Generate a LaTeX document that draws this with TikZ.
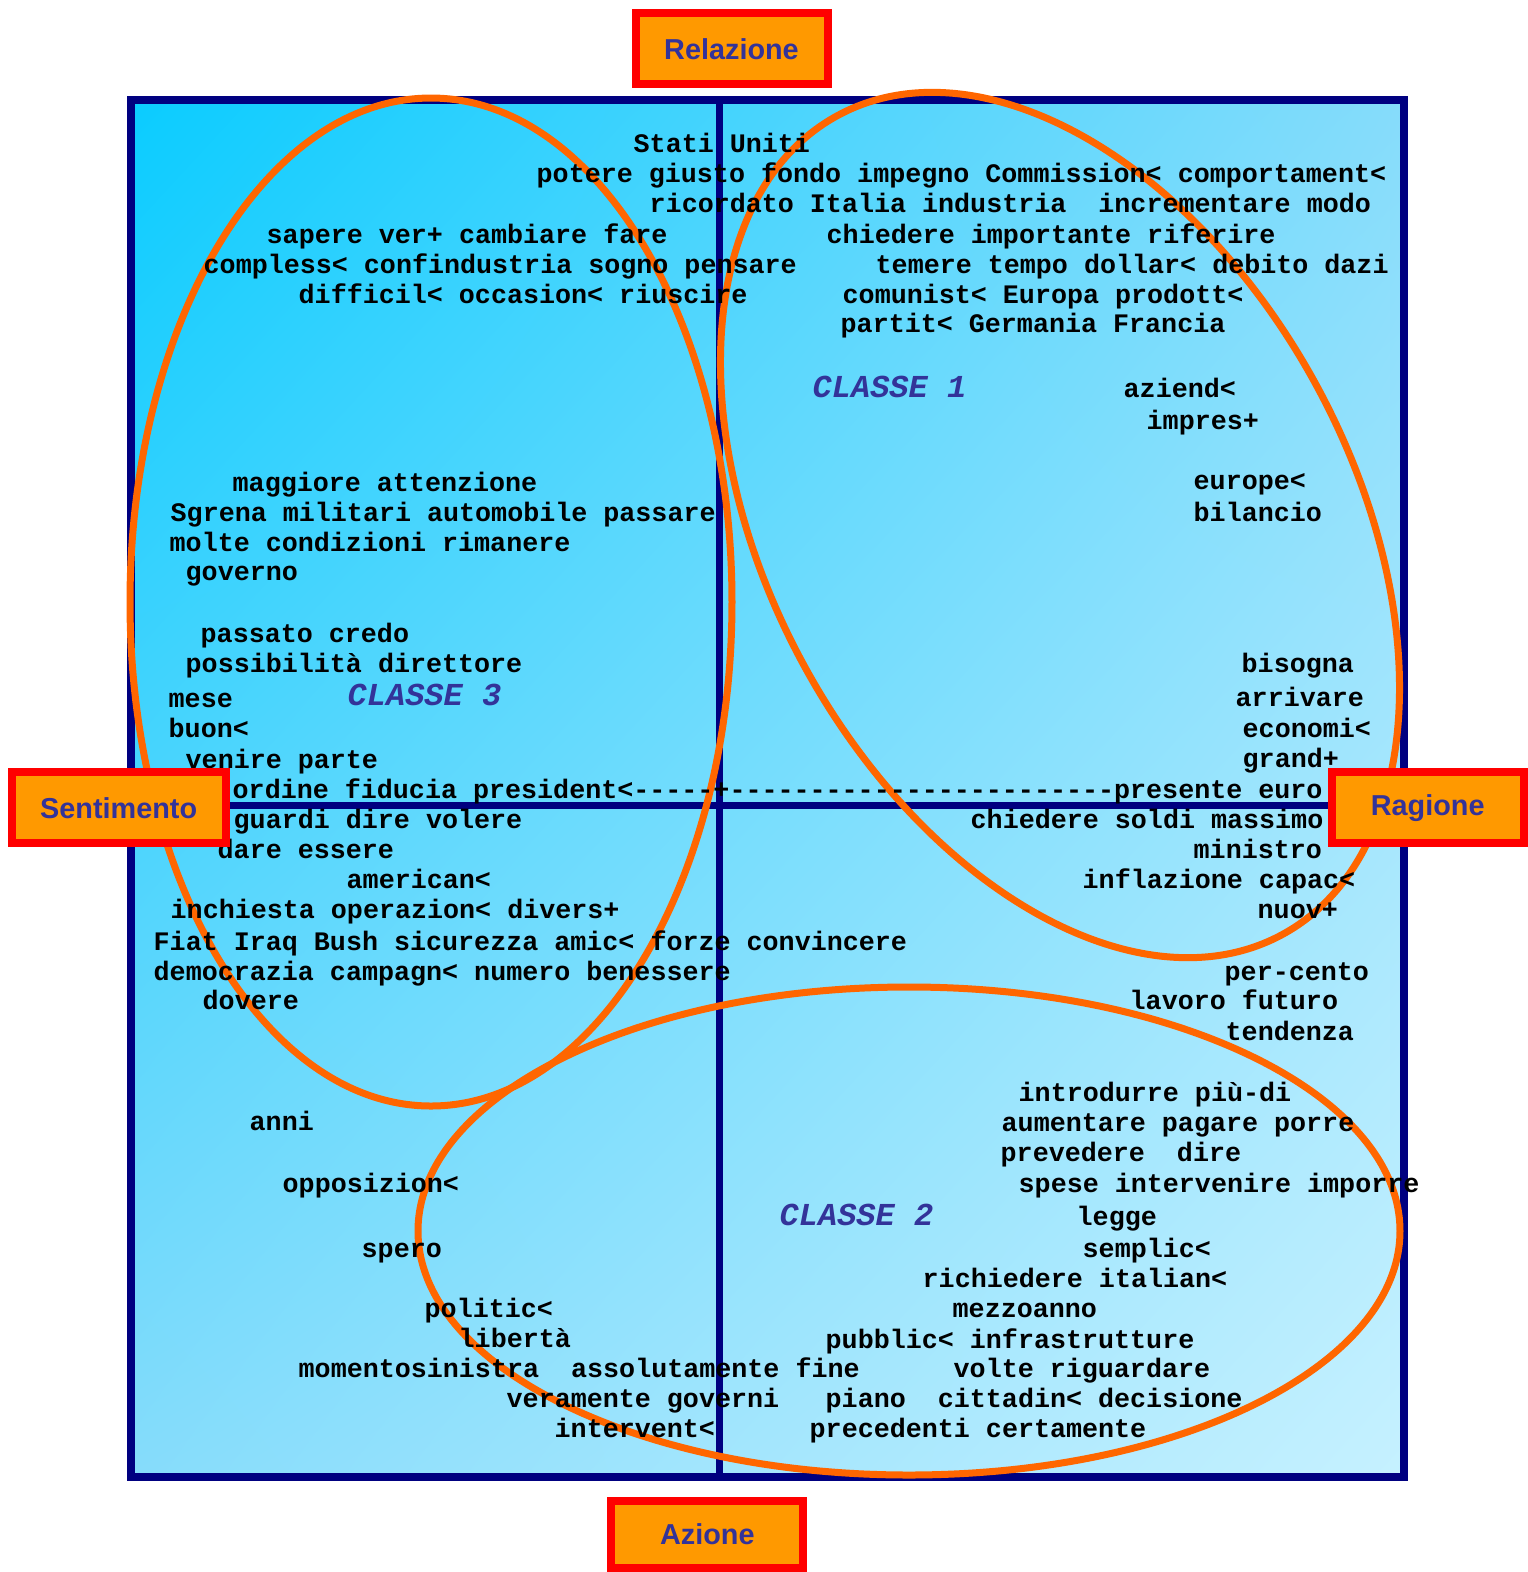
\documentclass[tikz,border=0pt]{standalone}
\usepackage{fontspec}
\setmonofont{Liberation Mono}
\setsansfont{Liberation Sans}
\usepackage{xcolor}
\usepackage{tikz}
\usetikzlibrary{positioning,shadings}

\definecolor{framenavy}{HTML}{000080}
\definecolor{ellorange}{HTML}{FF6600}
\definecolor{boxorange}{HTML}{FF9900}
\definecolor{labelblue}{HTML}{333399}
\definecolor{fillcyan}{HTML}{0ACCFF}
\definecolor{fillmid}{HTML}{86DCFB}
\definecolor{filllight}{HTML}{C6F1FF}

\begin{document}
\begin{tikzpicture}
        % Define styles
        \tikzset{
            word/.style={anchor=base west, inner sep=0pt, font=\ttfamily\bfseries\fontsize{7.6}{9}\selectfont},
            classe/.style={anchor=base west, inner sep=0pt, text=labelblue, font=\ttfamily\bfseries\itshape\fontsize{9.1}{11}\selectfont},
            axisbox/.style={rectangle, draw=red, line width=0.08cm, fill=boxorange, text=labelblue, font=\sffamily\bfseries\fontsize{8.2}{10}\selectfont, minimum width=1.92cm, minimum height=0.71cm, inner xsep=0.285cm},
            cluster/.style={draw=ellorange, line width=0.07cm},
            gridline/.style={draw=framenavy, line width=0.07cm}
        }
        \useasboundingbox (0,0) rectangle (15.28,-15.72);

        % Background and quadrants
        \shade[upper left=fillcyan, upper right=fillmid, lower left=fillmid, lower right=filllight] (1.31,-0.995) rectangle (14.035,-14.77);
        \draw [gridline] (7.195,-0.995) -- (7.195,-14.77);
        \draw [gridline] (1.31,-8.055) -- (14.035,-8.055);
        \draw [framenavy, line width=0.08cm] (1.31,-0.995) rectangle (14.035,-14.77);

        % Clusters
        \draw [cluster] (4.31,-6.02) ellipse [x radius=3.01, y radius=5.04];
        \draw [cluster, rotate around={28.5:(10.60,-5.25)}] (10.60,-5.25) ellipse [x radius=2.92, y radius=4.66];
        \draw [cluster] (9.09,-12.31) ellipse [x radius=4.91, y radius=2.44];

        % Create nodes (upper half)
        \node [word] (stati) at (6.33,-1.52) {Stati Uniti};
        \node [word] (potere) at (5.36,-1.82) {potere giusto fondo impegno Commission< comportament<};
        \node [word] (ricordato) at (6.49,-2.12) {ricordato Italia industria~ incrementare modo};
        \node [word] (sapere) at (2.66,-2.43) {sapere ver+ cambiare fare};
        \node [word] (chiedere) at (8.26,-2.43) {chiedere importante riferire};
        \node [word] (compless) at (2.03,-2.73) {compless< confindustria sogno pensare};
        \node [word] (temere) at (8.75,-2.73) {temere tempo dollar< debito dazi};
        \node [word] (difficil) at (2.98,-3.03) {difficil< occasion< riuscire};
        \node [word] (comunist) at (8.42,-3.03) {comunist< Europa prodott<};
        \node [word] (partit) at (8.40,-3.32) {partit< Germania Francia};
        \node [classe] (classe1) at (8.12,-3.97) {CLASSE 1};
        \node [word] (aziend) at (11.23,-3.97) {aziend<};
        \node [word] (impres) at (11.46,-4.29) {impres+};
        \node [word] (maggiore) at (2.32,-4.91) {maggiore attenzione};
        \node [word] (europe) at (11.93,-4.89) {europe<};
        \node [word] (sgrena) at (1.70,-5.21) {Sgrena militari automobile passare};
        \node [word] (bilancio) at (11.93,-5.21) {bilancio};
        \node [word] (molte) at (1.69,-5.51) {molte condizioni rimanere};
        \node [word] (governo) at (1.85,-5.80) {governo};
        \node [word] (passato) at (2.00,-6.42) {passato credo};
        \node [word] (possibilita) at (1.85,-6.72) {possibilità direttore};
        \node [word] (bisogna) at (12.41,-6.72) {bisogna};
        \node [word] (mese) at (1.68,-7.07) {mese};
        \node [classe] (classe3) at (3.47,-7.05) {CLASSE 3};
        \node [word] (arrivare) at (12.35,-7.06) {arrivare};
        \node [word] (buon) at (1.68,-7.37) {buon<};
        \node [word] (economi) at (12.42,-7.37) {economi<};
        \node [word] (venire) at (1.85,-7.68) {venire parte};
        \node [word] (grand) at (12.42,-7.67) {grand+};
        \node [word] (ordine) at (2.32,-7.98) {ordine fiducia president<-----+------------------------presente euro};

        % Create nodes (lower half)
        \node [word] (guardi) at (2.33,-8.28) {guardi dire volere};
        \node [word] (chiederesoldi) at (9.70,-8.28) {chiedere soldi massimo};
        \node [word] (dare) at (2.17,-8.58) {dare essere};
        \node [word] (ministro) at (11.93,-8.58) {ministro};
        \node [word] (american) at (3.46,-8.88) {american<};
        \node [word] (inflazione) at (10.82,-8.88) {inflazione capac<};
        \node [word] (inchiesta) at (1.70,-9.18) {inchiesta operazion< divers+};
        \node [word] (nuov) at (12.57,-9.18) {nuov+};
        \node [word] (fiat) at (1.53,-9.50) {Fiat Iraq Bush sicurezza amic< forze convincere};
        \node [word] (democrazia) at (1.53,-9.80) {democrazia campagn< numero benessere};
        \node [word] (percento) at (12.24,-9.80) {per-cento};
        \node [word] (dovere) at (2.02,-10.09) {dovere};
        \node [word] (lavoro) at (11.29,-10.09) {lavoro futuro};
        \node [word] (tendenza) at (12.25,-10.40) {tendenza};
        \node [word] (introdurre) at (10.18,-11.01) {introdurre più-di};
        \node [word] (anni) at (2.49,-11.30) {anni};
        \node [word] (aumentare) at (10.01,-11.31) {aumentare pagare porre};
        \node [word] (prevedere) at (10.00,-11.61) {prevedere~ dire};
        \node [word] (opposizion) at (2.82,-11.92) {opposizion<};
        \node [word] (spese) at (10.18,-11.92) {spese intervenire imporre};
        \node [classe] (classe2) at (7.79,-12.25) {CLASSE 2};
        \node [word] (legge) at (10.76,-12.25) {legge};
        \node [word] (spero) at (3.61,-12.57) {spero};
        \node [word] (semplic) at (10.82,-12.57) {semplic<};
        \node [word] (richiedere) at (9.22,-12.87) {richiedere italian<};
        \node [word] (politic) at (4.24,-13.17) {politic<};
        \node [word] (mezzoanno) at (9.52,-13.17) {mezzoanno};
        \node [word] (liberta) at (4.58,-13.47) {libertà};
        \node [word] (pubblic) at (8.25,-13.48) {pubblic< infrastrutture};
        \node [word] (momento) at (2.98,-13.77) {momentosinistra~ assolutamente fine};
        \node [word] (volte) at (9.53,-13.77) {volte riguardare};
        \node [word] (veramente) at (5.06,-14.07) {veramente governi};
        \node [word] (piano) at (8.25,-14.07) {piano~ cittadin< decisione};
        \node [word] (intervent) at (5.54,-14.37) {intervent<};
        \node [word] (precedenti) at (8.09,-14.37) {precedenti certamente};

        % Add axis labels
        \node [axisbox] (relazione) at (7.315,-0.489) {Relazione};
        \node [axisbox] (sentimento) at (1.187,-8.078) {Sentimento};
        \node [axisbox] (ragione) at (14.277,-8.078) {Ragione};
        \node [axisbox, minimum height=0.67cm] (azione) at (7.073,-15.345) {Azione};
    \end{tikzpicture}
\end{document}
